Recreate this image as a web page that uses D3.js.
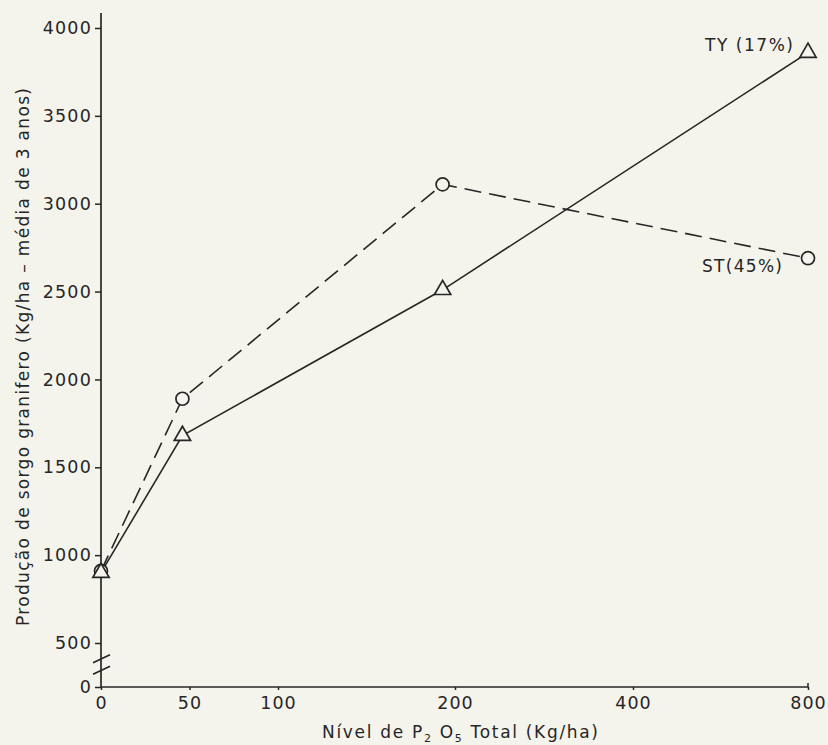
<!DOCTYPE html>
<html lang="pt">
<head>
<meta charset="UTF-8">
<title>Produção de sorgo granifero</title>
<script src="https://d3js.org/d3.v7.min.js"></script>
<style>
  body { margin: 0; background: #f5f4ec; }
  svg { display: block; }
  text { font-family: "DejaVu Sans", sans-serif; fill: #262626; }
  .tick line { stroke: #262626; stroke-width: 1.5; }
</style>
</head>
<body>
<div id="chart"></div>
<script>
// levels of P2O5 (kg/ha) where the points sit
const levels = [0, 46, 193, 800];
// ST (45%) - dashed line, circles
const stValues = [910, 1890, 3110, 2690];
// TY (17%) - solid line, triangles
const tyValues = [900, 1680, 2510, 3860];

const xTicks = [0, 50, 100, 200, 400, 800];
const yTicks = [0, 500, 1000, 1500, 2000, 2500, 3000, 3500, 4000];

const width = 828, height = 745;
const ink = "#262626";
const paper = "#f5f4ec";

const svg = d3.select("#chart").append("svg")
    .attr("width", width)
    .attr("height", height);

svg.append("rect")
    .attr("width", width)
    .attr("height", height)
    .attr("fill", paper);

// the original x axis is linear up to 200 then compressed
const x = d3.scaleLinear()
    .domain([0, 200, 400, 800])
    .range([101, 455, 633, 808]);

// y axis has a break between 0 and 500
const y = d3.scaleLinear()
    .domain([0, 500, 4000])
    .range([687, 643, 28]);

// axes
const xAxis = svg.append("g")
    .attr("transform", `translate(0, ${y(0)})`)
    .call(d3.axisBottom(x).tickValues(xTicks).tickFormat(d3.format("d"))
        .tickSize(3).tickSizeOuter(0).tickPadding(7));
xAxis.select(".domain").remove();
xAxis.selectAll(".tick text")
    .attr("font-size", 17.5)
    .attr("font-family", "DejaVu Sans, sans-serif")
    .attr("letter-spacing", 1);

const yAxis = svg.append("g")
    .attr("transform", `translate(${x(0)}, 0)`)
    .call(d3.axisLeft(y).tickValues(yTicks).tickFormat(d3.format("d"))
        .tickSize(6).tickSizeOuter(0).tickPadding(3));
yAxis.select(".domain").remove();
yAxis.selectAll(".tick text")
    .attr("font-size", 17.5)
    .attr("font-family", "DejaVu Sans, sans-serif")
    .attr("letter-spacing", 1.2);

svg.append("line")
    .attr("x1", x(0)).attr("x2", x(0))
    .attr("y1", y(0)).attr("y2", y(4000) - 15)
    .attr("stroke", ink).attr("stroke-width", 1.7);

svg.append("line")
    .attr("x1", x(0)).attr("x2", x(800))
    .attr("y1", y(0)).attr("y2", y(0))
    .attr("stroke", ink).attr("stroke-width", 1.7);

svg.append("line")
    .attr("x1", x(800)).attr("x2", x(800))
    .attr("y1", y(0)).attr("y2", y(0) - 4)
    .attr("stroke", ink).attr("stroke-width", 1.5);

// axis break marks
[320, 190].forEach(v => {
    svg.append("line")
        .attr("x1", x(0) - 8).attr("y1", y(v) + 4)
        .attr("x2", x(0) + 9).attr("y2", y(v) - 4)
        .attr("stroke", ink).attr("stroke-width", 1.7);
});

// lines
const stData = levels.map((l, i) => ({ x: l, y: stValues[i] }));
const tyData = levels.map((l, i) => ({ x: l, y: tyValues[i] }));

const line = d3.line().x(d => x(d.x)).y(d => y(d.y));

svg.append("path")
    .datum(stData)
    .attr("d", line)
    .attr("fill", "none")
    .attr("stroke", ink)
    .attr("stroke-width", 1.6)
    .attr("stroke-dasharray", "17,8");

svg.append("path")
    .datum(tyData)
    .attr("d", line)
    .attr("fill", "none")
    .attr("stroke", ink)
    .attr("stroke-width", 1.6);

// markers
svg.selectAll("circle.st")
    .data(stData)
    .join("circle")
    .attr("class", "st")
    .attr("cx", d => x(d.x))
    .attr("cy", d => y(d.y))
    .attr("r", 6.5)
    .attr("fill", paper)
    .attr("stroke", ink)
    .attr("stroke-width", 1.7);

const tri = d3.symbol().type(d3.symbolTriangle).size(115);
svg.selectAll("path.ty")
    .data(tyData)
    .join("path")
    .attr("class", "ty")
    .attr("d", tri)
    .attr("transform", d => `translate(${x(d.x)}, ${y(d.y)})`)
    .attr("fill", paper)
    .attr("stroke", ink)
    .attr("stroke-width", 1.7);

// series labels
svg.append("text")
    .attr("x", 793).attr("y", 51)
    .attr("text-anchor", "end")
    .attr("font-size", 17)
    .attr("textLength", 88)
    .attr("lengthAdjust", "spacing")
    .text("TY (17%)");

svg.append("text")
    .attr("x", 782).attr("y", 272)
    .attr("text-anchor", "end")
    .attr("font-size", 17)
    .attr("textLength", 80)
    .attr("lengthAdjust", "spacing")
    .text("ST(45%)");

// axis titles
const xTitle = svg.append("text")
    .attr("x", 322).attr("y", 738)
    .attr("font-size", 17)
    .attr("textLength", 276)
    .attr("lengthAdjust", "spacing");
xTitle.append("tspan").text("Nível de P");
xTitle.append("tspan").attr("font-size", 11).attr("dy", 4).text("2");
xTitle.append("tspan").attr("dy", -4).text(" O");
xTitle.append("tspan").attr("font-size", 11).attr("dy", 4).text("5");
xTitle.append("tspan").attr("dy", -4).text("  Total (Kg/ha)");

svg.append("text")
    .attr("transform", `translate(29, 626) rotate(-90)`)
    .attr("font-size", 17)
    .attr("textLength", 538)
    .attr("lengthAdjust", "spacing")
    .text("Produção de sorgo granifero (Kg/ha – média de 3 anos)");
</script>
</body>
</html>
